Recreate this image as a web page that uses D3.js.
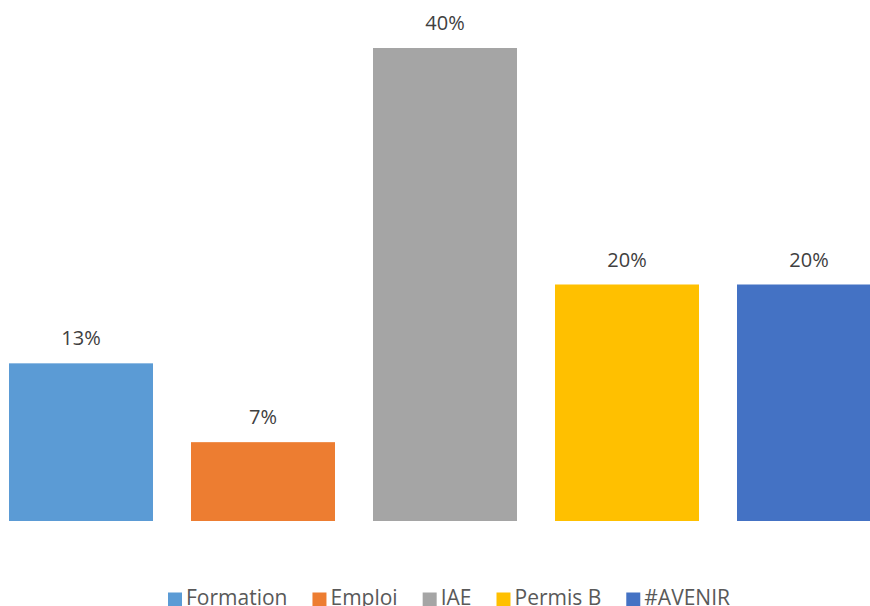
<!DOCTYPE html>
<html><head><meta charset="utf-8">
<script src="https://cdn.jsdelivr.net/npm/d3@7"></script>
<style>html,body{margin:0;padding:0;background:#fff;overflow:hidden}</style>
</head><body>
<svg id="c" width="870" height="606"></svg>
<script>
const categories = ["Formation", "Emploi", "IAE", "Permis B", "#AVENIR"];
const counts = [2, 1, 6, 3, 3];
const total = 15;
const colors = ["#5B9BD5", "#ED7D31", "#A5A5A5", "#FFC000", "#4472C4"];

const data = categories.map((c, i) => ({cat: c, v: counts[i] / total, color: colors[i]}));
const svg = d3.select("#c");

const pi = 38 / 182;
const x = d3.scaleBand().domain(categories).range([-10, 900]).paddingInner(pi).paddingOuter(pi / 2);
const y = d3.scaleLinear().domain([0, 0.4]).range([521, 48]);

svg.selectAll("rect.bar").data(data).join("rect")
  .attr("class", "bar")
  .attr("x", d => x(d.cat)).attr("width", x.bandwidth())
  .attr("y", d => y(d.v)).attr("height", d => y(0) - y(d.v))
  .attr("fill", d => d.color);

svg.selectAll("text.lbl").data(data).join("text")
  .attr("class", "lbl")
  .attr("x", d => x(d.cat) + x.bandwidth() / 2)
  .attr("y", d => y(d.v) - 18)
  .attr("text-anchor", "middle")
  .attr("font-family", "Open Sans, sans-serif")
  .attr("font-size", 20)
  .attr("fill", "#404040")
  .text(d => d3.format(".0%")(d.v));

// legend
const lg = svg.append("g");
let cx = 168;
data.forEach(d => {
  const g = lg.append("g");
  g.append("rect").attr("x", cx).attr("y", 592.5).attr("width", 14).attr("height", 14).attr("fill", d.color);
  const t = g.append("text").attr("x", cx + 18).attr("y", 605)
    .attr("font-family", "Open Sans, sans-serif").attr("font-size", 21)
    .attr("fill", "#595959").text(d.cat);
  const w = t.node().getComputedTextLength();
  cx = cx + 18 + w + 25;
});
</script>
</body></html>
